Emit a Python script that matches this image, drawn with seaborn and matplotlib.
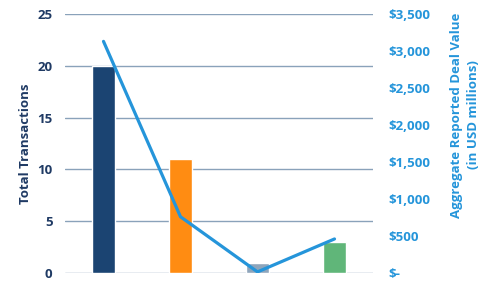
import matplotlib
matplotlib.use("Agg")
import matplotlib.pyplot as plt
import seaborn as sns
import numpy as np
import pandas as pd

categories = ["Category A", "Category B", "Category C", "Category D"]
transactions = [20, 11, 1, 3]
deal_value = [3130, 760, 15, 460]
left_ticks = [0, 5, 10, 15, 20, 25]
right_ticks = [0, 500, 1000, 1500, 2000, 2500, 3000, 3500]
right_labels = ["$-", "$500", "$1,000", "$1,500", "$2,000", "$2,500", "$3,000", "$3,500"]
bar_colors = ["#1B4472", "#FF8C12", "#8FA5BB", "#60B679"]

sns.set_theme(style="white")
plt.rcParams["font.family"] = ["Open Sans", "DejaVu Sans"]

navy = "#1F3A64"
blue = "#2595DA"
grid_c = "#8AA2BA"
fs = 9.5

df = pd.DataFrame({"cat": categories, "n": transactions, "v": deal_value})

fig = plt.figure(figsize=(4.93, 2.88), dpi=100)
ax = fig.add_axes([65/493, 15/288, 308/493, 259/288])
sns.barplot(data=df, x="cat", y="n", hue="cat", palette=bar_colors, width=0.31,
            legend=False, ax=ax, saturation=1)
ax.set_ylim(0, 25)
ax.set_yticks(left_ticks)
ax.set_xlim(-0.5, 3.5)
ax.set_xticks([])
ax.set_xlabel("")
ax.set_ylabel("Total Transactions", color=navy, fontsize=fs, fontweight="bold")
ax.yaxis.set_label_coords(-0.108, 0.5)
ax.tick_params(axis="y", colors=navy, labelsize=fs, length=0, pad=9)
for t in ax.get_yticklabels():
    t.set_fontweight("bold")
ax.yaxis.grid(True, color=grid_c, linewidth=1)
ax.set_axisbelow(True)
for s in ax.spines.values():
    s.set_visible(False)

ax2 = ax.twinx()
sns.lineplot(x=np.arange(len(categories)), y=deal_value, ax=ax2, color=blue, linewidth=2.3)
ax2.set_ylim(0, 3500)
ax2.set_yticks(right_ticks)
ax2.set_yticklabels(right_labels)
ax2.tick_params(axis="y", colors=blue, labelsize=fs, length=0, pad=11)
for t in ax2.get_yticklabels():
    t.set_fontweight("bold")
ax2.set_ylabel("Aggregate Reported Deal Value\n(in USD millions)", color=blue, fontsize=fs,
               fontweight="bold", linespacing=1.35)
ax2.yaxis.set_label_coords(1.25, 0.61)
ax2.grid(False)
for s in ax2.spines.values():
    s.set_visible(False)
ax.set_xlim(-0.5, 3.5)

fig.savefig("out.png", dpi=100)
